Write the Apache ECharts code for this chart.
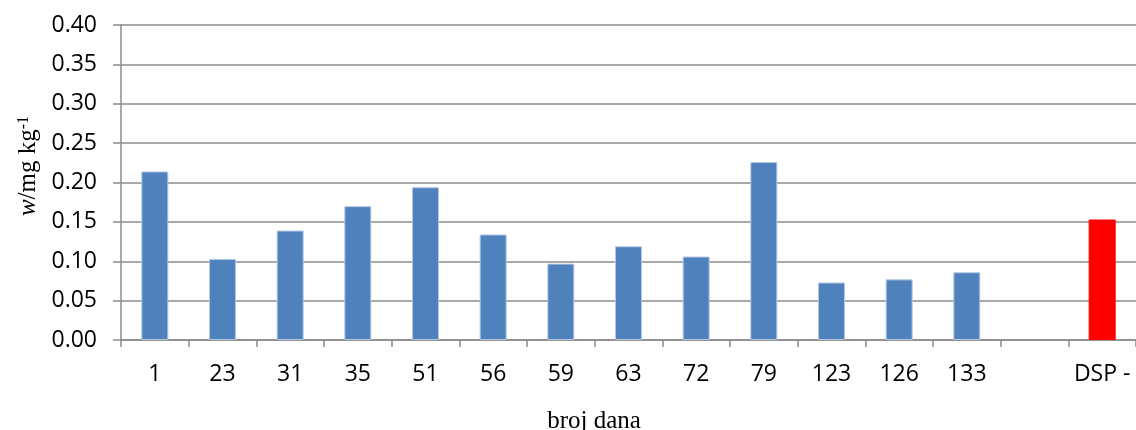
<!DOCTYPE html>
<html>
<head>
<meta charset="utf-8">
<script src="https://cdn.jsdelivr.net/npm/echarts@6/dist/echarts.min.js"></script>
<style>
 html, body { margin: 0; padding: 0; background: #fff; }
 #chart { width: 1136px; height: 430px; }
</style>
</head>
<body>
<div id="chart"></div>
<script>
// broj dana (days) and measured w / mg kg-1
const days = ['1', '23', '31', '35', '51', '56', '59', '63', '72', '79', '123', '126', '133', '', 'DSP -']
const values = [0.214, 0.103, 0.139, 0.170, 0.194, 0.134, 0.097, 0.119, 0.106, 0.226, 0.073, 0.077, 0.086, null, 0.153]
const yTicks = [0, 0.05, 0.10, 0.15, 0.20, 0.25, 0.30, 0.35, 0.40]

const blue = '#4f81bd'
const red = '#ff0000'
const gridColor = '#8c8c8c'
const labelFont = '"Open Sans", sans-serif'
const serifFont = '"Liberation Serif", "DejaVu Serif", serif'

const seriesData = values.map((v, i) => {
 if (days[i] === 'DSP -') {
  return { value: v, itemStyle: { color: red, borderColor: red } }
 }
 return v
})

const chart = echarts.init(document.getElementById('chart'))
chart.setOption({
 animation: false,
 grid: { left: 121, right: 0, top: 25, bottom: 90 },
 xAxis: {
  type: 'category',
  data: days,
  boundaryGap: true,
  axisLine: { show: true, lineStyle: { color: gridColor, width: 1.5 } },
  axisTick: { show: true, length: 7, alignWithLabel: false, lineStyle: { color: gridColor, width: 1.5 } },
  axisLabel: { color: '#000', fontFamily: labelFont, fontSize: 23, margin: 23, interval: 0 },
  splitLine: { show: false }
 },
 yAxis: {
  type: 'value',
  min: yTicks[0],
  max: yTicks[yTicks.length - 1],
  interval: 0.05,
  axisLine: { show: true, lineStyle: { color: gridColor, width: 1.5 } },
  axisTick: { show: true, length: 8, lineStyle: { color: gridColor, width: 1.5 } },
  axisLabel: {
   color: '#000', fontFamily: labelFont, fontSize: 23, margin: 24,
   formatter: v => v.toFixed(2)
  },
  splitLine: { show: true, lineStyle: { color: gridColor, width: 1.5 } }
 },
 series: [{
  type: 'bar',
  data: seriesData,
  barWidth: 27,
  itemStyle: { color: blue, borderColor: '#b4c8e4', borderWidth: 1 }
 }],
 graphic: [
  {
   type: 'text',
   x: 28, y: 166,
   rotation: Math.PI / 2,
   style: {
    text: '{it|w}/mg kg{sup|-1}',
    align: 'center',
    verticalAlign: 'middle',
    fontFamily: serifFont,
    fontSize: 25,
    fill: '#000',
    rich: {
     it: { fontFamily: serifFont, fontSize: 25, fontStyle: 'italic', fill: '#000' },
     sup: { fontFamily: serifFont, fontSize: 16, verticalAlign: 'top', fill: '#000', padding: [0, 0, 9, 0] }
    }
   }
  },
  {
   type: 'text',
   x: 594, y: 421,
   style: {
    text: 'broj dana',
    align: 'center',
    verticalAlign: 'middle',
    fontFamily: serifFont,
    fontSize: 25,
    fill: '#000'
   }
  }
 ]
})
</script>
</body>
</html>
